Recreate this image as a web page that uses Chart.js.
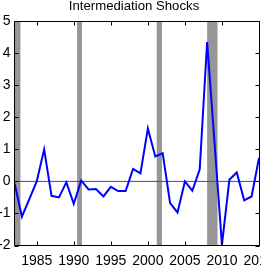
<!DOCTYPE html>
<html>
<head>
<meta charset="utf-8">
<script src="https://cdn.jsdelivr.net/npm/chart.js@4.4.0/dist/chart.umd.min.js"></script>
<style>
  html, body { margin: 0; padding: 0; background: #fff; overflow: hidden; }
</style>
</head>
<body>
<canvas id="shocks" width="261" height="267"></canvas>
<script>
// Annual intermediation shocks
const years = [1982, 1983, 1984, 1985, 1986, 1987, 1988, 1989, 1990, 1991,
               1992, 1993, 1994, 1995, 1996, 1997, 1998, 1999, 2000, 2001,
               2002, 2003, 2004, 2005, 2006, 2007, 2008, 2009, 2010, 2011,
               2012, 2013, 2014, 2015];
const shocks = [-0.05, -1.1, -0.55, 0.0, 1.0, -0.45, -0.5, -0.03, -0.7, 0.03,
                -0.25, -0.24, -0.47, -0.17, -0.3, -0.3, 0.39, 0.25, 1.65, 0.78,
                0.88, -0.68, -0.97, 0.0, -0.29, 0.38, 4.35, 1.2, -1.98, 0.05,
                0.28, -0.59, -0.47, 0.73];

// NBER recessions (shaded)
const recessionStart = [1982.0, 1990.45, 2001.2, 2008.0];
const recessionEnd = [1982.8, 1991.1, 2001.9, 2009.4];

const xTicks = [1985, 1990, 1995, 2000, 2005, 2010, 2015];
const yTicks = [-2, -1, 0, 1, 2, 3, 4, 5];
const titleText = 'Intermediation Shocks';

const FONT = "'Liberation Sans', Arial, sans-serif";

// grey bars behind the line
const recessionBars = {
    id: 'recessionBars',
    beforeDatasetsDraw(chart) {
        const { ctx, chartArea, scales } = chart;
        ctx.save();
        ctx.fillStyle = '#969696';
        for (let i = 0; i < recessionStart.length; i++) {
            const x0 = scales.x.getPixelForValue(recessionStart[i]);
            const x1 = scales.x.getPixelForValue(recessionEnd[i]);
            ctx.fillRect(x0, chartArea.top, x1 - x0, chartArea.bottom - chartArea.top);
        }
        ctx.restore();
    }
};

// matlab style box with inward ticks on every side
const boxFrame = {
    id: 'boxFrame',
    afterDatasetsDraw(chart) {
        const { ctx, chartArea, scales } = chart;
        const L = Math.floor(chartArea.left) + 0.5;
        const R = Math.floor(chartArea.right) + 0.5;
        const T = Math.floor(chartArea.top) + 0.5;
        const B = Math.floor(chartArea.bottom) + 0.5;
        const tick = 4;
        ctx.save();
        ctx.strokeStyle = '#000';
        ctx.lineWidth = 1;
        ctx.beginPath();
        ctx.rect(L, T, R - L, B - T);
        xTicks.forEach(v => {
            const x = Math.round(scales.x.getPixelForValue(v)) + 0.5;
            ctx.moveTo(x, B); ctx.lineTo(x, B - tick);
            ctx.moveTo(x, T); ctx.lineTo(x, T + tick);
        });
        yTicks.forEach(v => {
            const y = Math.round(scales.y.getPixelForValue(v)) + 0.5;
            ctx.moveTo(L, y); ctx.lineTo(L + tick, y);
            ctx.moveTo(R, y); ctx.lineTo(R - tick, y);
        });
        ctx.stroke();
        ctx.restore();
    },
    afterDraw(chart) {
        const { ctx } = chart;
        ctx.save();
        ctx.fillStyle = '#000';
        ctx.font = '13.2px ' + FONT;
        ctx.textAlign = 'center';
        ctx.textBaseline = 'alphabetic';
        ctx.fillText(titleText, 134, 9.5);
        ctx.restore();
    }
};

new Chart(document.getElementById('shocks'), {
    type: 'line',
    data: {
        datasets: [
            {
                label: 'Intermediation shocks',
                data: years.map((y, i) => ({ x: y, y: shocks[i] })),
                borderColor: '#0000ff',
                borderWidth: 2,
                pointRadius: 0,
                tension: 0
            },
            {
                label: 'zero',
                data: [{ x: years[0], y: 0 }, { x: xTicks[xTicks.length - 1], y: 0 }],
                borderColor: '#3a3aff',
                borderWidth: 1,
                pointRadius: 0
            }
        ]
    },
    options: {
        responsive: false,
        devicePixelRatio: 1,
        animation: false,
        layout: { padding: { top: 21.2, right: 2, left: 0, bottom: 0 } },
        scales: {
            x: {
                type: 'linear',
                min: 1982,
                max: 2015,
                grid: { display: false, drawTicks: false },
                border: { display: false },
                afterBuildTicks: s => { s.ticks = xTicks.map(v => ({ value: v })); },
                afterFit: s => { s.height = 21.5; s.paddingLeft = 0; s.paddingRight = 0; },
                ticks: {
                    autoSkip: false,
                    maxRotation: 0,
                    padding: 7,
                    color: '#000',
                    font: { family: FONT, size: 14 },
                    callback: v => String(v)
                }
            },
            y: {
                min: -2,
                max: 5,
                grid: { display: false, drawTicks: false },
                border: { display: false },
                afterBuildTicks: s => { s.ticks = yTicks.map(v => ({ value: v })); },
                afterFit: s => { s.width = 14.5; s.paddingTop = 0; s.paddingBottom = 0; },
                ticks: {
                    padding: 4,
                    color: '#000',
                    font: { family: FONT, size: 14 },
                    callback: v => String(v)
                }
            }
        },
        plugins: {
            legend: { display: false },
            tooltip: { enabled: false },
            title: { display: false }
        }
    },
    plugins: [recessionBars, boxFrame]
});
</script>
</body>
</html>
